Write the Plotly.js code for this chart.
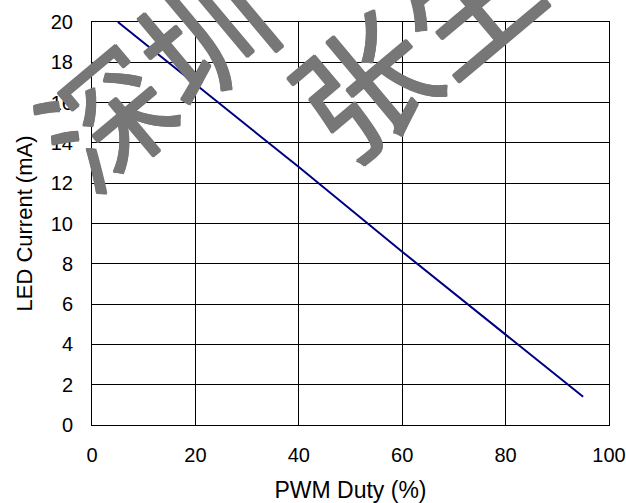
<!DOCTYPE html>
<html>
<head>
<meta charset="utf-8">
<script src="https://cdn.plot.ly/plotly-3.0.1.min.js"></script>
<style>html,body{margin:0;padding:0;background:#fff;}#chart{width:626px;height:503px;}</style>
</head>
<body>
<div id="chart"></div>
<script>
const pwmDuty = [5, 20, 40, 60, 80, 95];
const ledCurrent = [20, 16.9, 12.8, 8.6, 4.5, 1.4];
const xTicks = [0, 20, 40, 60, 80, 100];
const yTicks = [0, 2, 4, 6, 8, 10, 12, 14, 16, 18, 20];
const watermarkWords = ["深圳", "张生"];

const fontFam = "Liberation Sans, Arial, sans-serif";

const trace = {
  x: pwmDuty, y: ledCurrent, type: "scatter", mode: "lines",
  line: {color: "#000080", width: 2}, hoverinfo: "skip"
};

const L = 92, R = 609, T = 22, B = 425;
const px = v => (v - L) / (R - L);
const py = v => 1 - (v - T) / (B - T);
const wmShadow = "1px 0 0 #777, -1px 0 0 #777, 0 1px 0 #777, 0 -1px 0 #777";

const layout = {
  width: 626, height: 503,
  margin: {l: L, r: 626 - R, t: T, b: 503 - B},
  paper_bgcolor: "#fff", plot_bgcolor: "#fff",
  showlegend: false,
  font: {family: fontFam, color: "#000"},
  xaxis: {
    range: [0, 100], tickvals: xTicks, ticktext: xTicks.map(String),
    showgrid: true, gridcolor: "#000", gridwidth: 1,
    showline: true, linecolor: "#000", linewidth: 1, mirror: true,
    zeroline: false, ticks: "", ticklen: 0,
    tickfont: {size: 20, family: fontFam}, ticklabelstandoff: 12,
    title: {text: "PWM Duty (%)", font: {size: 23, family: fontFam}, standoff: 16}
  },
  yaxis: {
    range: [0, 20], tickvals: yTicks, ticktext: yTicks.map(String),
    showgrid: true, gridcolor: "#000", gridwidth: 1,
    showline: true, linecolor: "#000", linewidth: 1, mirror: true,
    zeroline: false, ticks: "", ticklen: 0,
    tickfont: {size: 20, family: fontFam}, ticklabelstandoff: 14,
    title: {text: "LED Current (mA)", font: {size: 22, family: fontFam}, standoff: 12}
  },
  annotations: [
    {text: watermarkWords[0], xref: "paper", yref: "paper", x: px(152), y: py(72),
     showarrow: false, textangle: -40, xanchor: "center", yanchor: "middle",
     font: {family: "Noto Sans CJK SC", size: 128, weight: 400, color: "#777777", shadow: wmShadow}},
    {text: watermarkWords[1], xref: "paper", yref: "paper", x: px(412), y: py(38),
     showarrow: false, textangle: -40, xanchor: "center", yanchor: "middle",
     font: {family: "Noto Sans CJK SC", size: 134, weight: 400, color: "#777777", shadow: wmShadow}}
  ]
};

Plotly.newPlot("chart", [trace], layout, {displayModeBar: false, staticPlot: true});
</script>
</body>
</html>
